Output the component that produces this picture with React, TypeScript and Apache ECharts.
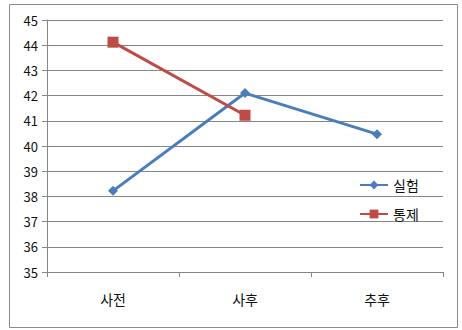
import React, { useEffect, useRef } from "react";
import * as echarts from "echarts";

const categories = ["사전", "사후", "추후"];
const experimental = [38.22, 42.1, 40.47];
const control: (number | null)[] = [44.12, 41.22, null];
const seriesNames = ["실험", "통제"];

export default function App() {
  const ref = useRef<HTMLDivElement>(null);
  useEffect(() => {
    const chart = echarts.init(ref.current!, null, { renderer: "svg" });
    const font = "'Noto Sans CJK KR', 'Noto Sans', sans-serif";
    chart.setOption({
      animation: false,
      textStyle: { fontFamily: font },
      graphic: [
        {
          type: "rect",
          shape: { x: 9.5, y: 4.5, width: 448, height: 323 },
          style: { fill: "none", stroke: "#8a8a8a", lineWidth: 1 },
          silent: true,
        },
      ],
      grid: { left: 47, right: 19, top: 20, bottom: 58 },
      xAxis: {
        type: "category",
        data: categories,
        boundaryGap: true,
        axisLine: { lineStyle: { color: "#868686" } },
        axisTick: { show: true, length: 5, lineStyle: { color: "#868686" } },
        axisLabel: { color: "#111", fontSize: 14, margin: 20, fontFamily: font },
      },
      yAxis: {
        type: "value",
        min: 35,
        max: 45,
        interval: 1,
        axisLine: { show: true, lineStyle: { color: "#868686" } },
        axisTick: { show: true, length: 5, lineStyle: { color: "#868686" } },
        splitLine: { lineStyle: { color: "#868686" } },
        axisLabel: { color: "#111", fontSize: 13, margin: 9, fontFamily: font },
      },
      legend: {
        orient: "vertical",
        left: 354,
        top: 173,
        itemWidth: 28,
        itemHeight: 11,
        itemGap: 15,
        textStyle: { color: "#111", fontSize: 14, fontFamily: font },
        data: seriesNames,
      },
      series: [
        {
          name: seriesNames[0],
          type: "line",
          data: experimental,
          symbol: "diamond",
          symbolSize: 10,
          lineStyle: { color: "#4A7EBB", width: 3 },
          itemStyle: { color: "#4A7EBB" },
        },
        {
          name: seriesNames[1],
          type: "line",
          data: control,
          symbol: "rect",
          symbolSize: 11,
          lineStyle: { color: "#BE4B48", width: 3 },
          itemStyle: { color: "#BE4B48" },
        },
      ],
    });
    return () => chart.dispose();
  }, []);
  return (
    <div
      ref={ref}
      style={{ position: "fixed", left: 0, top: 0, width: 462, height: 330, background: "#fff" }}
    />
  );
}
